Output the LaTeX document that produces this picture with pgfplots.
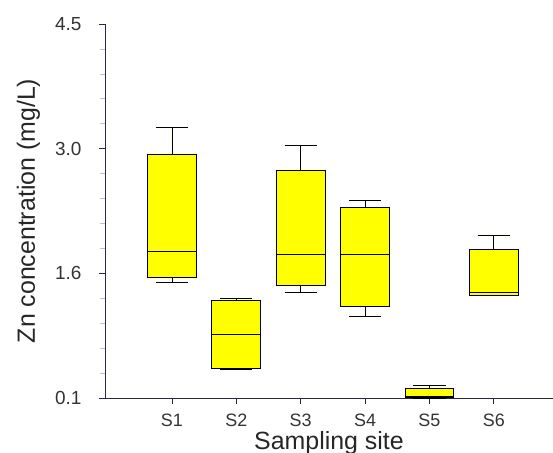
\documentclass[border=0pt]{standalone}
\usepackage{pgfplots}
\pgfplotsset{compat=1.18}
\usepgfplotslibrary{statistics}
\usepackage{fontspec}
\setmainfont{Liberation Sans}
\definecolor{axcol}{RGB}{40,40,70}
\definecolor{boxyellow}{RGB}{255,255,0}
\begin{document}
\begin{tikzpicture}
\begin{axis}[
  scale only axis,
  width=448bp, height=374bp,
  xmin=-0.04, xmax=6.92,
  ymin=0.1, ymax=4.5,
  clip=false,
  axis x line=bottom, axis y line=left,
  axis line style={-, draw=axcol, line width=0.8bp},
  xtick={1,2,3,4,5,6},
  xticklabels={S1,S2,S3,S4,S5,S6},
  ytick={0.1,1.5667,3.0333,4.5},
  yticklabels={0.1,1.6,3.0,4.5},
  minor ytick={0.3933,0.6867,0.98,1.2733,1.86,2.1533,2.4467,2.74,3.3267,3.62,3.9133,4.2067},
  tick align=outside,
  major tick length=6bp, minor tick length=5bp,
  tick style={draw=axcol, line width=0.8bp},
  minor tick style={draw=black!25, line width=0.7bp},
  ticklabel style={font=\fontsize{19}{23}\selectfont, text=black!80},
  yticklabel style={xshift=-14bp},
  xticklabel style={font=\fontsize{18}{22}\selectfont, inner sep=1bp, yshift=-9bp},
  xlabel={Sampling site},
  ylabel={Zn concentration (mg/L)},
  label style={font=\fontsize{25}{30}\selectfont, text=black!85, inner sep=1bp},
  xlabel style={at={(axis description cs:0.5,0)}, anchor=base, yshift=-51bp},
  ylabel style={at={(axis description cs:-0.15625,0.5)}, anchor=base},
  boxplot/draw direction=y,
  boxplot/box extend=0.76,
  boxplot/whisker extend=0.5,
]
\coordinate (O) at (rel axis cs:0,0);
\addplot[draw=black, fill=boxyellow, line width=0.8bp, boxplot prepared={lower whisker=1.456, lower quartile=1.515, median=1.82, upper quartile=2.96, upper whisker=3.285, draw position=1}] coordinates {};
\addplot[draw=black, fill=boxyellow, line width=0.8bp, boxplot prepared={lower whisker=0.441, lower quartile=0.453, median=0.849, upper quartile=1.249, upper whisker=1.276, draw position=2}] coordinates {};
\addplot[draw=black, fill=boxyellow, line width=0.8bp, boxplot prepared={lower whisker=1.339, lower quartile=1.429, median=1.794, upper quartile=2.782, upper whisker=3.076, draw position=3}] coordinates {};
\addplot[draw=black, fill=boxyellow, line width=0.8bp, boxplot prepared={lower whisker=1.065, lower quartile=1.174, median=1.794, upper quartile=2.339, upper whisker=2.429, draw position=4}] coordinates {};
\addplot[draw=black, fill=boxyellow, line width=0.8bp, boxplot prepared={lower whisker=0.1, lower quartile=0.112, median=0.115, upper quartile=0.214, upper whisker=0.245, draw position=5}] coordinates {};
\addplot[draw=black, fill=boxyellow, line width=0.8bp, boxplot prepared={lower whisker=1.308, lower quartile=1.308, median=1.339, upper quartile=1.853, upper whisker=2.018, draw position=6}] coordinates {};
\end{axis}
\pgfresetboundingbox
\path[use as bounding box] ([xshift=-105bp,yshift=-55bp]O) rectangle ([xshift=448bp,yshift=398bp]O);
\end{tikzpicture}
\end{document}
